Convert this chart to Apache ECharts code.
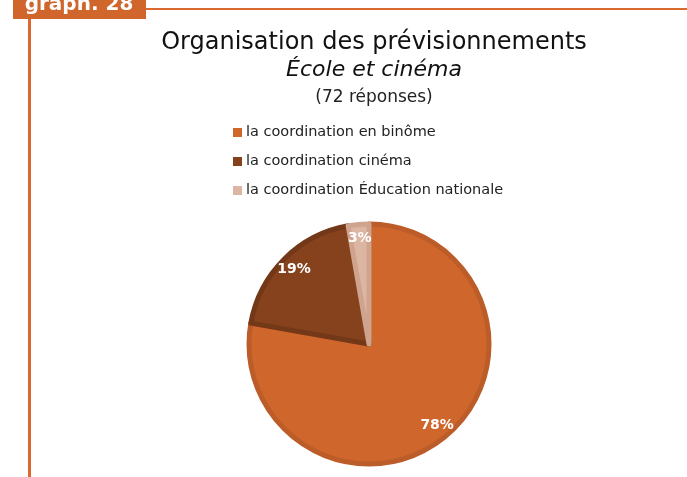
<!DOCTYPE html>
<html>
<head>
<meta charset="utf-8">
<script src="https://cdn.jsdelivr.net/npm/echarts@6/dist/echarts.min.js"></script>
<style>
  html, body { margin: 0; padding: 0; background: #fff; }
  #main { width: 687px; height: 477px; }
</style>
</head>
<body>
<div id="main"></div>
<script>
// data (72 answers)
const categories = ['la coordination en binôme', 'la coordination cinéma', 'la coordination Éducation nationale'];
const counts = [56, 14, 2];
const colors = ['#CF672D', '#86421C', '#DDB6A3'];
const borders = ['#BC5C28', '#733818', '#CFA48F'];

const font = '"DejaVu Sans", Verdana, sans-serif';
const total = counts.reduce((a, b) => a + b, 0);

const pieData = categories.map((name, i) => ({
    name: name,
    value: counts[i],
    itemStyle: { color: colors[i], borderColor: borders[i], borderWidth: 5 }
}));

const labelData = categories.map((name, i) => ({ name: name, value: counts[i] }));

const option = {
    animation: false,
    title: [
        {
            text: 'Organisation des prévisionnements',
            left: 369, top: 26, textAlign: 'center',
            textStyle: { fontFamily: font, fontSize: 24, fontWeight: 'normal', color: '#111' }
        },
        {
            text: 'École et cinéma',
            left: 369, top: 54, textAlign: 'center',
            textStyle: { fontFamily: font, fontSize: 22, fontStyle: 'italic', fontWeight: 'normal', color: '#111' }
        },
        {
            text: '(' + total + ' réponses)',
            left: 369, top: 84, textAlign: 'center',
            textStyle: { fontFamily: font, fontSize: 17, fontWeight: 'normal', color: '#222' }
        }
    ],
    legend: {
        orient: 'vertical',
        left: 228, top: 120,
        itemWidth: 9, itemHeight: 9, itemGap: 14,
        icon: 'rect',
        selectedMode: false,
        textStyle: { fontFamily: font, fontSize: 14.5, color: '#222', padding: [0, 0, 0, -1] },
        data: categories.map((name, i) => ({ name: name, itemStyle: { color: colors[i], borderWidth: 0 } }))
    },
    graphic: [
        { type: 'line', shape: { x1: 145, y1: 9, x2: 687, y2: 9 }, style: { stroke: '#D9692F', lineWidth: 2 } },
        { type: 'line', shape: { x1: 29.5, y1: 19, x2: 29.5, y2: 477 }, style: { stroke: '#D9692F', lineWidth: 3 } },
        { type: 'rect', shape: { x: 13, y: 0, width: 133, height: 19 }, style: { fill: '#D0662C' } },
        {
            type: 'text', x: 79, y: 15,
            style: { text: 'graph. 28', fill: '#fff', font: 'bold 20px ' + font, textAlign: 'center', textVerticalAlign: 'bottom' }
        }
    ],
    series: [
        {
            type: 'pie',
            center: [369, 344],
            radius: [0, 120],
            startAngle: 90,
            clockwise: true,
            silent: true,
            label: { show: false },
            labelLine: { show: false },
            data: pieData
        },
        {
            // transparent ring carrying the percentage labels
            type: 'pie',
            center: [369, 344],
            radius: [86, 120],
            startAngle: 90,
            clockwise: true,
            silent: true,
            itemStyle: { color: 'rgba(0,0,0,0)' },
            label: {
                show: true,
                position: 'inside',
                formatter: p => Math.round(p.percent) + '%',
                color: '#fff',
                fontFamily: font,
                fontSize: 14,
                fontWeight: 'bold'
            },
            labelLine: { show: false },
            data: labelData
        }
    ]
};

const myCharts = echarts.init(document.getElementById('main'));
myCharts.setOption(option);
</script>
</body>
</html>
